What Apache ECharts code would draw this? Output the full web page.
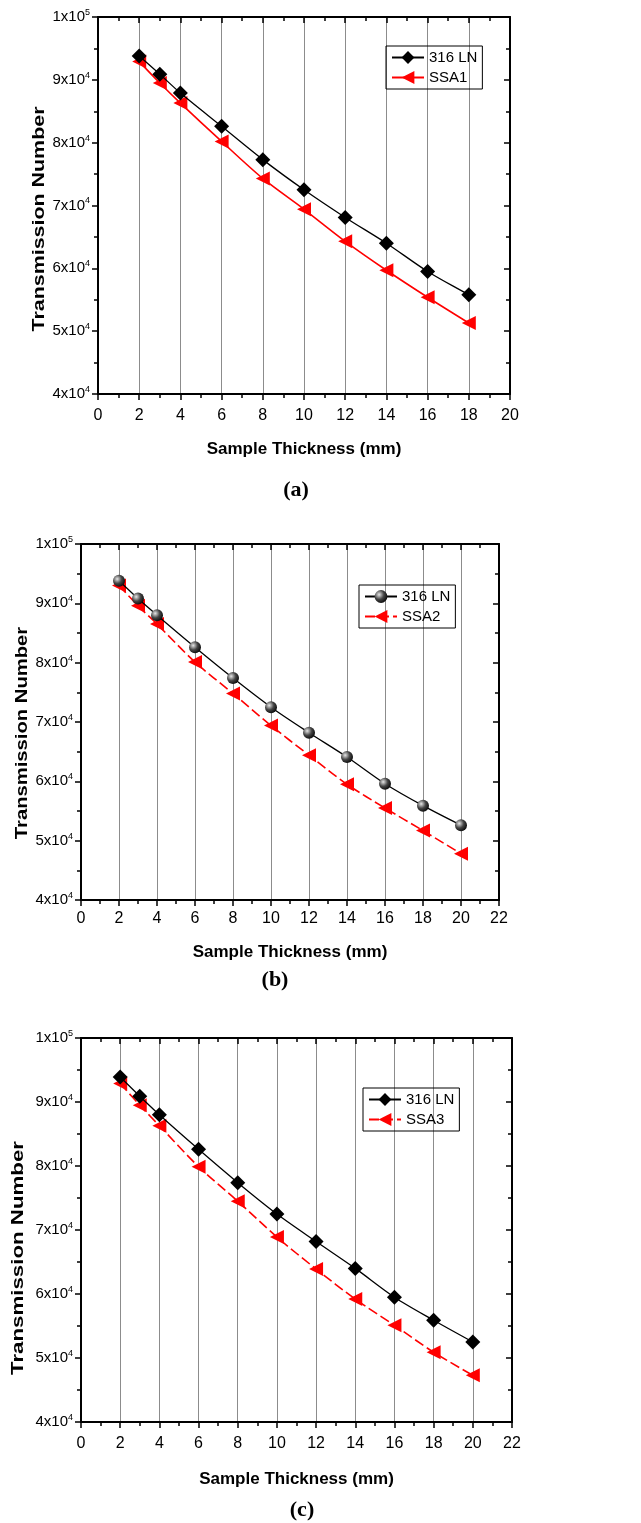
<!DOCTYPE html>
<html>
<head>
<meta charset="utf-8">
<script src="https://cdn.jsdelivr.net/npm/echarts@6/dist/echarts.min.js"></script>
<style>
  html, body { margin: 0; padding: 0; background: #fff; }
  #chart { width: 641px; height: 1523px; }
</style>
</head>
<body>
<div id="chart"></div>
<script>
// data
const thicknessA = [2, 3, 4, 6, 8, 10, 12, 14, 16, 18];
const ln316A = [93800, 90900, 87900, 82600, 77300, 72500, 68100, 64000, 59500, 55800];
const ssa1 = [92900, 89500, 86300, 80200, 74300, 69400, 64300, 59700, 55400, 51300];

const thicknessBC = [2, 3, 4, 6, 8, 10, 12, 14, 16, 18, 20];
const ln316B = [93800, 90800, 88000, 82600, 77400, 72500, 68200, 64100, 59600, 55900, 52600];
const ssa2 = [93000, 89600, 86500, 80100, 74800, 69400, 64400, 59500, 55500, 51700, 47800];
const ln316C = [93900, 90900, 88000, 82600, 77400, 72500, 68200, 64000, 59500, 55900, 52500];
const ssa3 = [92900, 89500, 86300, 79900, 74500, 68900, 63900, 59200, 55100, 50900, 47300];

const xMax = [20, 22, 22];
const captions = ['(a)', '(b)', '(c)'];

const FONT = '"Liberation Sans", Arial, sans-serif';

const pairs = (xs, ys) => xs.map((x, i) => [x, ys[i]]);

// plot boxes
const grids = [
  { left: 98, top: 17, width: 412, height: 377 },
  { left: 81, top: 544, width: 418, height: 356 },
  { left: 81, top: 1038, width: 431, height: 384 }
];
const xNameGap = [47, 44, 49];
const xLabelMargin = [14, 11, 14];

const sphere = {
  type: 'radial', x: 0.35, y: 0.35, r: 0.75,
  colorStops: [{ offset: 0, color: '#e6e6e6' }, { offset: 0.5, color: '#444' }, { offset: 1, color: '#000' }]
};

const sciLabel = v => {
  const e = Math.floor(Math.log10(v) + 1e-9);
  const m = Math.round(v / Math.pow(10, e));
  return m + 'x10{sup|' + e + '}';
};

const axisLine = { show: true, onZero: false, lineStyle: { color: '#000', width: 2 } };
const tickStyle = { color: '#000', width: 1.5 };

const xAxes = [];
const yAxes = [];
grids.forEach((g, i) => {
  xAxes.push({
    gridIndex: i, type: 'value', min: 0, max: xMax[i], interval: 2,
    name: 'Sample Thickness (mm)', nameLocation: 'middle', nameGap: xNameGap[i],
    nameTextStyle: { fontFamily: FONT, fontWeight: 'bold', fontSize: 17, color: '#000' },
    axisLine: axisLine,
    axisTick: { show: true, inside: false, length: 6, lineStyle: tickStyle },
    minorTick: { show: true, splitNumber: 2, length: 4, lineStyle: tickStyle },
    axisLabel: { margin: xLabelMargin[i], fontFamily: FONT, fontSize: 16, color: '#000' },
    splitLine: { show: true, lineStyle: { color: '#8c8c8c', width: 1 } }
  });
  xAxes.push({
    gridIndex: i, type: 'value', position: 'top', min: 0, max: xMax[i], interval: 2,
    axisLine: axisLine,
    axisTick: { show: true, inside: true, length: 6, lineStyle: tickStyle },
    minorTick: { show: true, splitNumber: 2, length: 4, lineStyle: tickStyle },
    axisLabel: { show: false },
    splitLine: { show: false }
  });
  yAxes.push({
    gridIndex: i, type: 'value', min: 40000, max: 100000, interval: 10000,
    axisLine: axisLine,
    axisTick: { show: true, inside: false, length: 6, lineStyle: tickStyle },
    minorTick: { show: true, splitNumber: 2, length: 4, lineStyle: tickStyle },
    axisLabel: {
      margin: 8, fontFamily: FONT, fontSize: 15, color: '#000',
      formatter: sciLabel,
      rich: { sup: { fontFamily: FONT, fontSize: 9, color: '#000', verticalAlign: 'top', padding: [0, 0, 9, 0] } }
    },
    splitLine: { show: false }
  });
  yAxes.push({
    gridIndex: i, type: 'value', position: 'right', min: 40000, max: 100000, interval: 10000,
    axisLine: axisLine,
    axisTick: { show: true, inside: true, length: 6, lineStyle: tickStyle },
    minorTick: { show: true, splitNumber: 2, length: 4, lineStyle: tickStyle },
    axisLabel: { show: false },
    splitLine: { show: false }
  });
});

const blackSeries = (name, idx, data, symbol, color) => ({
  name: name, type: 'line', xAxisIndex: idx * 2, yAxisIndex: idx * 2,
  data: data, smooth: 0.3, symbol: symbol, symbolSize: symbol === 'circle' ? 12 : 15,
  itemStyle: { color: color, borderWidth: 0 },
  lineStyle: { color: '#000', width: 1.3 }, z: 3
});
const redSeries = (name, idx, data, dashed) => ({
  name: name, type: 'line', xAxisIndex: idx * 2, yAxisIndex: idx * 2,
  data: data, smooth: 0.3, symbol: 'triangle', symbolRotate: 90, symbolSize: [14, 14],
  itemStyle: { color: '#ff0000' },
  lineStyle: { color: '#ff0000', width: 1.6, type: dashed ? [10, 4] : 'solid' }, z: 2
});

const series = [
  blackSeries('a|316 LN', 0, pairs(thicknessA, ln316A), 'diamond', '#000'),
  redSeries('a|SSA1', 0, pairs(thicknessA, ssa1), false),
  blackSeries('b|316 LN', 1, pairs(thicknessBC, ln316B), 'circle', sphere),
  redSeries('b|SSA2', 1, pairs(thicknessBC, ssa2), true),
  blackSeries('c|316 LN', 2, pairs(thicknessBC, ln316C), 'diamond', '#000'),
  redSeries('c|SSA3', 2, pairs(thicknessBC, ssa3), true)
];

const legendPos = [
  { left: 386, top: 46 },
  { left: 359, top: 585 },
  { left: 363, top: 1088 }
];
const legends = legendPos.map((p, i) => ({
  left: p.left, top: p.top, orient: 'vertical',
  data: [series[i * 2].name, series[i * 2 + 1].name],
  formatter: n => n.split('|')[1],
  borderColor: '#000', borderWidth: 1, borderRadius: 0,
  padding: [4, 5, 4, 5], itemGap: 5, itemWidth: 32, itemHeight: 16,
  textStyle: { fontFamily: FONT, fontSize: 15, color: '#000' },
  selectedMode: false
}));

// y titles drawn as text so they can carry the stretched look of the figure
const yTitlePos = [[39, 219, 1.26], [22, 733, 1.19], [18, 1258, 1.31]];
const yTitles = yTitlePos.map(p => ({
  type: 'text', x: p[0], y: p[1], rotation: Math.PI / 2, scaleX: p[2],
  style: {
    text: 'Transmission Number', align: 'center', verticalAlign: 'middle',
    font: 'bold 17px ' + FONT, fill: '#000'
  }
}));

const captionPos = [[296, 490], [275, 980], [302, 1510]];
const captionTexts = captions.map((c, i) => ({
  type: 'text', x: captionPos[i][0], y: captionPos[i][1],
  style: {
    text: c, align: 'center', verticalAlign: 'middle',
    font: 'bold 22px "Liberation Serif", "Times New Roman", serif', fill: '#000'
  }
}));

const chart = echarts.init(document.getElementById('chart'), null, { renderer: 'canvas' });
chart.setOption({
  backgroundColor: '#fff',
  animation: false,
  grid: grids,
  xAxis: xAxes,
  yAxis: yAxes,
  legend: legends,
  series: series,
  graphic: yTitles.concat(captionTexts)
});
</script>
</body>
</html>
